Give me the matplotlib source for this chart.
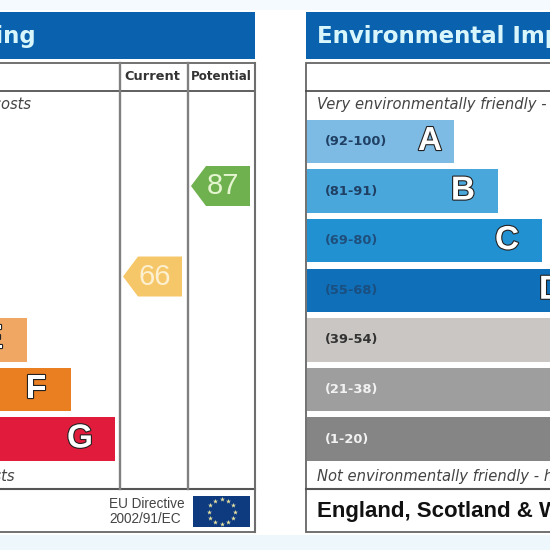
import numpy as np
from matplotlib import pyplot as plt
from matplotlib import patheffects as pe
from matplotlib.patches import Rectangle, Polygon

plt.rcParams['font.family'] = ['Liberation Sans', 'DejaVu Sans']

# rating bands, same for both panels
bands = ["A", "B", "C", "D", "E", "F", "G"]
ranges = ["(92-100)", "(81-91)", "(69-80)", "(55-68)", "(39-54)", "(21-38)", "(1-20)"]
band_widths = [147, 191, 235, 279, 323, 367, 411]
energy_colors = ["#00804a", "#2ba14b", "#8cc43f", "#f5e20a", "#f0a763", "#ea7f22", "#e01b3c"]
env_colors = ["#7dbbe4", "#4aa7dc", "#2291d1", "#0f6fb8", "#c9c6c3", "#9e9e9e", "#858585"]
range_colors = ["#1f3f63", "#1f3f63", "#1f4f7c", "#1a4f80", "#333333", "#f2f2f2", "#f2f2f2"]

current_score = 66
potential_score = 87

fig = plt.figure(figsize=(5.5, 5.5), dpi=100)
ax = fig.add_axes([0, 0, 1, 1])
ax.set_xlim(0, 550)
ax.set_ylim(550, 0)
ax.axis("off")

# pale blue page strips above and below the panels
ax.add_patch(Rectangle((0, 0), 550, 10, color="#f4fafd", lw=0))
ax.add_patch(Rectangle((0, 535), 550, 15, color="#eef8fc", lw=0))


def score_y(score):
    return 186 + (87 - score) * 4.31


def draw_panel(x0, title, top_text, bottom_text, colors, show_ranges, text_xy):
    # text_xy holds the x anchor and alignment of title, top and bottom lines
    x1 = x0 + 552
    ax.add_patch(Rectangle((x0, 12), x1 - x0, 47, color="#0a61ae", lw=0))
    ax.add_patch(Rectangle((x0, 63), x1 - x0, 469, fc="white", ec="#666666", lw=1.3))
    ax.plot([x0, x1], [90.5, 90.5], color="#444444", lw=1.2)
    ax.plot([x0, x1], [489, 489], color="#555555", lw=1.5)
    x, ha = text_xy[0]
    ax.text(x, 36, title, color="#d8f6fb", fontsize=16.5, fontweight="bold",
            family="DejaVu Sans", ha=ha, va="center", clip_on=True)
    x, ha = text_xy[1]
    ax.text(x, 105, top_text, style="italic", fontsize=10.6, color="#444444",
            family="DejaVu Sans", ha=ha, va="center", clip_on=True)
    x, ha = text_xy[2]
    ax.text(x, 476, bottom_text, style="italic", fontsize=10.6, color="#444444",
            family="DejaVu Sans", ha=ha, va="center", clip_on=True)
    ax.text(x0 + 11, 512, "England, Scotland & Wales", fontweight="bold", fontsize=16,
            color="#111111", va="center", clip_on=True)

    ys = np.linspace(141.5, 439, len(bands))
    ax.barh(ys, band_widths, height=43.5, left=x0 + 1, color=colors, lw=0)
    for i, band in enumerate(bands):
        offset = 24 if band == "A" else 35
        ax.text(x0 + 1 + band_widths[i] - offset, ys[i], band, color="white", fontsize=24,
                fontweight="bold", ha="center", va="center", clip_on=True,
                path_effects=[pe.withStroke(linewidth=1.6, foreground="#222222")])
        if show_ranges:
            ax.text(x0 + 19, ys[i], ranges[i], color=range_colors[i], fontsize=9.4,
                    fontweight="bold", family="DejaVu Sans", va="center", clip_on=True)


draw_panel(-297, "Energy Efficiency Rating", "Very energy efficient - lower running costs",
           "Not energy efficient - higher running costs", energy_colors, False,
           [(36, "right"), (31, "right"), (15, "right")])
draw_panel(306, "Environmental Impact (CO\u2082) Rating",
           "Very environmentally friendly - lower CO\u2082 emissions",
           "Not environmentally friendly - higher CO\u2082 emissions", env_colors, True,
           [(317, "left"), (317, "left"), (317, "left")])

# score columns of the left panel
for x in [119.5, 187.5]:
    ax.plot([x, x], [63, 489], color="#808080", lw=1.7)
ax.plot([255, 255], [63, 532], color="#6e6e6e", lw=1.5)
ax.text(152, 77, "Current", fontsize=9.3, fontweight="bold", color="#333333",
        family="DejaVu Sans", ha="center", va="center")
ax.text(221, 77, "Potential", fontsize=8.6, fontweight="bold", color="#333333",
        family="DejaVu Sans", ha="center", va="center")


def draw_score(score, right, color, text_color):
    y = score_y(score)
    ax.add_patch(Polygon([(right - 59, y), (right - 44, y - 20), (right, y - 20),
                          (right, y + 20), (right - 44, y + 20)], color=color, lw=0))
    ax.text(right - 27, y, str(score), color=text_color, fontsize=21, ha="center", va="center")


draw_score(current_score, 182, "#f6c768", "#fdf0d0")
draw_score(potential_score, 250, "#6fb04f", "#e4f5cf")

# EU directive note and flag
ax.text(109, 504, "EU Directive", fontsize=9.8, color="#444444", va="center")
ax.text(109, 519, "2002/91/EC", fontsize=9.8, color="#444444", va="center")
ax.add_patch(Rectangle((193, 496), 57, 31, color="#0e3a80", lw=0))
angles = np.arange(12) * np.pi / 6
ax.scatter(221.5 + 13 * np.cos(angles), 511.5 + 12.5 * np.sin(angles), s=14, marker="*",
           color="#e8e4a0", lw=0, zorder=5)

fig.savefig("out.png", dpi=100)
